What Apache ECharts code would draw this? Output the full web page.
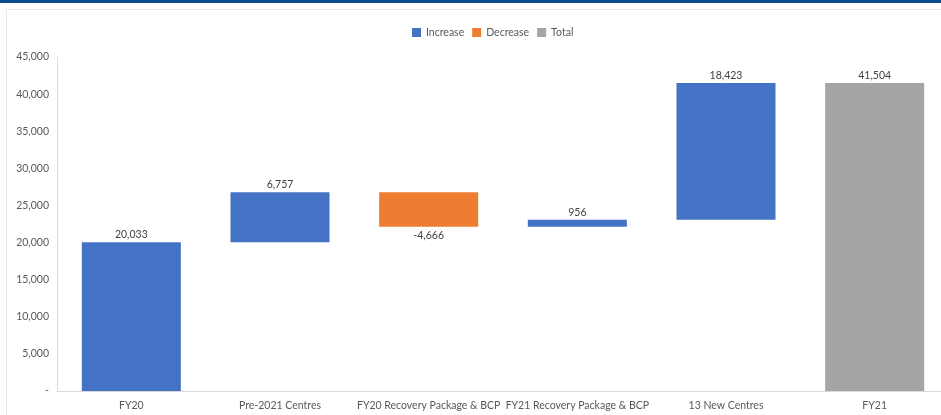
<!DOCTYPE html>
<html><head><meta charset="utf-8">
<script src="https://cdn.jsdelivr.net/npm/echarts@6/dist/echarts.min.js"></script>
<style>html,body{margin:0;padding:0;background:#fff}#c{width:941px;height:415px}</style>
</head><body><div id="c"></div>
<script>
const categories = ['FY20','Pre-2021 Centres','FY20 Recovery Package & BCP','FY21 Recovery Package & BCP','13 New Centres','FY21'];
const values = [20033, 6757, -4666, 956, 18423, 41504];
const kinds = ['increase','increase','decrease','increase','increase','total'];
const yTicks = [0,5000,10000,15000,20000,25000,30000,35000,40000,45000];

const base = [], inc = [], dec = [], tot = [];
let run = 0;
values.forEach((v,i)=>{
  if (kinds[i]==='total'){ base.push(0); inc.push('-'); dec.push('-'); tot.push(v); run = v; }
  else if (v>=0){ base.push(run); inc.push(v); dec.push('-'); tot.push('-'); run += v; }
  else { run += v; base.push(run); inc.push('-'); dec.push(-v); tot.push('-'); }
});
const fmt = n => n.toLocaleString('en-US');
const font = 'Lato';
const fs = 10.5;
const chart = echarts.init(document.getElementById('c'));
chart.setOption({
  animation:false,
  textStyle:{fontFamily:font},
  graphic:[
    {type:'rect',shape:{x:0,y:0,width:941,height:3},style:{fill:'#0b4a8b'}},
    {type:'rect',shape:{x:6.5,y:9.5,width:940,height:410},style:{fill:'none',stroke:'#e6e6e6',lineWidth:1}}
  ],
  legend:{data:['Increase','Decrease','Total'],top:22,left:407,itemWidth:9,itemHeight:9,itemGap:8,icon:'rect',
    textStyle:{color:'#595959',fontSize:fs,fontFamily:font}},
  grid:{left:57,width:892,top:57,bottom:24,containLabel:false,outerBoundsMode:'none'},
  xAxis:{type:'category',data:categories,axisTick:{show:false},
    axisLine:{lineStyle:{color:'#d9d9d9'}},
    axisLabel:{color:'#595959',fontSize:fs,fontFamily:font,margin:9,interval:0}},
  yAxis:{type:'value',min:0,max:45000,interval:5000,splitLine:{show:false},
    axisLine:{show:true,lineStyle:{color:'#d9d9d9'}},
    axisLabel:{color:'#595959',fontSize:fs,fontFamily:font,margin:8,formatter:v=>v===0?'-':fmt(v)}},
  series:[
    {name:'base',type:'bar',stack:'w',data:base,barWidth:'66.6%',itemStyle:{color:'transparent'},silent:true},
    {name:'Increase',type:'bar',stack:'w',data:inc,itemStyle:{color:'#4472c4'},
      label:{show:true,position:'top',distance:2,color:'#404040',fontSize:fs,fontFamily:font,formatter:p=>fmt(p.value)}},
    {name:'Decrease',type:'bar',stack:'w',data:dec,itemStyle:{color:'#ed7d31'},
      label:{show:true,position:'bottom',distance:3,color:'#404040',fontSize:fs,fontFamily:font,formatter:p=>'-'+fmt(p.value)}},
    {name:'Total',type:'bar',stack:'w',data:tot,itemStyle:{color:'#a5a5a5'},
      label:{show:true,position:'top',distance:2,color:'#404040',fontSize:fs,fontFamily:font,formatter:p=>fmt(p.value)}}
  ]
});
</script></body></html>
